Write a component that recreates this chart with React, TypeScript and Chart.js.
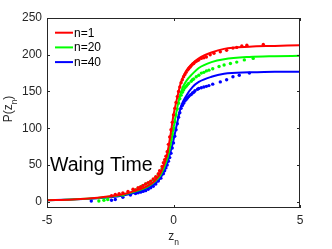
import React, { useEffect, useRef } from "react";
import { Chart, registerables } from "chart.js";

Chart.register(...registerables);

const X_TICKS = [-5, 0, 5];
const Y_TICKS = [0, 50, 100, 150, 200, 250];
const X_MIN = -5;
const X_MAX = 5;
const Y_MIN = -8.6;
const Y_MAX = 250;

const SERIES_LABELS = ["n=1", "n=20", "n=40"];
const SERIES_COLORS = ["#ff0000", "#00ff00", "#0000ff"];

const CURVE_X = [-5, -4, -3, -2.5, -2, -1.5, -1, -0.75, -0.5, -0.25, -0.1, 0, 0.15, 0.3, 0.5, 0.75, 1, 1.5, 2, 3, 4, 5];
const RED_CURVE = [2, 3, 5.5, 7.5, 10, 15, 22, 28, 40, 65, 95, 118, 142, 163, 178, 188, 195, 203, 208, 211, 212, 213];
const GREEN_CURVE = [2, 3, 5, 7, 9.5, 14, 21, 27, 37, 58, 80, 100, 128, 150, 164, 174, 182, 190, 194, 197, 198, 198.5];
const BLUE_CURVE = [2, 3, 4.5, 6, 8.5, 12.5, 19, 24, 33, 52, 70, 84, 108, 130, 144, 156, 163, 170, 174, 176, 177, 177];

const RED_DOTS_X = [-2.45, -2.3, -2.15, -2.0, -1.8, -1.6, -1.5, -1.4, -1.3, -1.2, -1.1, -1.0, -0.9, -0.8, -0.7, -0.6, -0.55, -0.45, -0.4, -0.35, -0.3, -0.25, -0.2, -0.15, -0.1, -0.05, 0, 0.05, 0.1, 0.15, 0.2, 0.25, 0.3, 0.35, 0.4, 0.45, 0.5, 0.55, 0.6, 0.65, 0.7, 0.75, 0.8, 0.85, 0.9, 0.95, 1.0, 1.1, 1.2, 1.3, 1.45, 1.6, 1.85, 2.1, 2.35, 2.5, 2.7, 2.9, 3.55];
const RED_DOTS_Y = [8, 10, 11, 12, 14, 17, 16, 19, 20, 22, 24, 26, 28, 31, 34, 38, 42, 48, 53, 57, 62, 68, 78, 88, 98, 108, 118, 127, 135, 143, 150, 156, 162, 166, 170, 173, 176, 179, 181, 183, 185, 187, 188, 190, 191, 192, 193, 195, 196, 197, 200, 202, 204, 206, 209, 210, 212, 213, 214];

const GREEN_DOTS_X = [-2.95, -2.75, -2.6, -2.0, -1.6, -1.5, -1.4, -1.3, -1.25, -1.1, -1.0, -0.9, -0.8, -0.7, -0.6, -0.5, -0.45, -0.35, -0.3, -0.25, -0.2, -0.15, -0.1, -0.05, 0, 0.05, 0.1, 0.15, 0.2, 0.25, 0.3, 0.35, 0.4, 0.45, 0.5, 0.55, 0.6, 0.7, 0.75, 0.8, 0.9, 1.0, 1.1, 1.2, 1.3, 1.4, 1.55, 1.8, 2.0, 2.25, 2.5, 2.8, 3.15];
const GREEN_DOTS_Y = [1, 2, 3, 9, 14, 16, 18, 20, 21, 24, 25, 27, 30, 33, 37, 41, 45, 52, 57, 62, 70, 77, 85, 92, 100, 109, 118, 126, 134, 140, 145, 149, 152, 155, 157, 159, 161, 164, 166, 167, 170, 172, 175, 176, 178, 179, 181, 184, 186, 188, 190, 193, 195];

const BLUE_DOTS_X = [-3.25, -2.45, -2.3, -2.0, -1.7, -1.5, -1.4, -1.3, -1.2, -1.1, -1.0, -0.9, -0.8, -0.7, -0.6, -0.5, -0.4, -0.35, -0.3, -0.25, -0.2, -0.15, -0.1, -0.05, 0, 0.05, 0.1, 0.15, 0.2, 0.25, 0.3, 0.35, 0.4, 0.45, 0.5, 0.55, 0.6, 0.65, 0.7, 0.75, 0.8, 0.85, 0.95, 1.0, 1.1, 1.2, 1.3, 1.4, 1.55, 1.85, 2.1, 2.35, 2.6, 3.0];
const BLUE_DOTS_Y = [1, 2, 3, 6, 9, 11, 12, 13, 14, 15, 17, 19, 21, 24, 28, 32, 38, 42, 46, 50, 55, 60, 66, 73, 80, 89, 98, 106, 115, 121, 127, 131, 134, 137, 139, 141, 143, 145, 146, 148, 149, 151, 153, 154, 155, 156, 157, 158, 160, 163, 166, 170, 172, 175];

const ANNOTATION_TEXT = "Waing Time";
const ANNOTATION_X = -4.88;
const ANNOTATION_Y = 42;

const FONT = "'Liberation Sans', Arial, Helvetica, sans-serif";
const AXIS_COLOR = "#262626";

const zip = (xs: number[], ys: number[]) => xs.map((x, i) => ({ x, y: ys[i] }));

const frameAndTextPlugin = {
  id: "frameAndText",
  afterDatasetsDraw(chart: any) {
    const ctx = chart.ctx as CanvasRenderingContext2D;
    const { left, right, top, bottom } = chart.chartArea;
    const xs = chart.scales.x;
    const ys = chart.scales.y;
    ctx.save();
    ctx.strokeStyle = AXIS_COLOR;
    ctx.lineWidth = 1;
    ctx.strokeRect(Math.round(left) + 0.5, Math.round(top) + 0.5, Math.round(right - left) - 1, Math.round(bottom - top) - 1);
    const tl = 3;
    ctx.beginPath();
    X_TICKS.forEach((v) => {
      const px = Math.round(xs.getPixelForValue(v)) + 0.5;
      ctx.moveTo(px, bottom);
      ctx.lineTo(px, bottom - tl);
      ctx.moveTo(px, top);
      ctx.lineTo(px, top + tl);
    });
    Y_TICKS.forEach((v) => {
      const py = Math.round(ys.getPixelForValue(v)) + 0.5;
      ctx.moveTo(left, py);
      ctx.lineTo(left + tl, py);
      ctx.moveTo(right, py);
      ctx.lineTo(right - tl, py);
    });
    ctx.stroke();

    ctx.fillStyle = "#000000";
    ctx.font = `19.5px ${FONT}`;
    ctx.textAlign = "left";
    ctx.textBaseline = "alphabetic";
    ctx.fillText(ANNOTATION_TEXT, xs.getPixelForValue(ANNOTATION_X), ys.getPixelForValue(ANNOTATION_Y));

    const lx0 = left + 8;
    const lx1 = left + 26;
    let ly = top + 14.7;
    ctx.font = `12px ${FONT}`;
    ctx.textBaseline = "middle";
    SERIES_LABELS.forEach((lab, i) => {
      ctx.strokeStyle = SERIES_COLORS[i];
      ctx.lineWidth = 2;
      ctx.beginPath();
      ctx.moveTo(lx0, ly);
      ctx.lineTo(lx1, ly);
      ctx.stroke();
      ctx.fillStyle = "#000000";
      ctx.fillText(lab, lx1 + 1, ly + 0.5);
      ly += 14.7;
    });

    ctx.fillStyle = AXIS_COLOR;
    ctx.textBaseline = "alphabetic";
    ctx.font = `12px ${FONT}`;
    const zw = ctx.measureText("z").width;
    ctx.font = `8.5px ${FONT}`;
    const nw = ctx.measureText("n").width;
    const cx = (left + right) / 2;
    const sx = cx - (zw + nw) / 2;
    ctx.font = `12px ${FONT}`;
    ctx.fillText("z", sx, 240);
    ctx.font = `8.5px ${FONT}`;
    ctx.fillText("n", sx + zw, 244.5);

    ctx.save();
    ctx.translate(12, (top + bottom) / 2 - 4);
    ctx.rotate(-Math.PI / 2);
    ctx.font = `12px ${FONT}`;
    const p1 = "P(z";
    const p1w = ctx.measureText(p1).width;
    const p3w = ctx.measureText(")").width;
    ctx.font = `8.5px ${FONT}`;
    const p2w = ctx.measureText("n").width;
    const total = p1w + p2w + p3w;
    let x0 = -total / 2;
    ctx.font = `12px ${FONT}`;
    ctx.fillText(p1, x0, 0);
    x0 += p1w;
    ctx.font = `8.5px ${FONT}`;
    ctx.fillText("n", x0, 4.5);
    x0 += p2w;
    ctx.font = `12px ${FONT}`;
    ctx.fillText(")", x0, 0);
    ctx.restore();

    ctx.restore();
  },
};

export default function App() {
  const canvasRef = useRef<HTMLCanvasElement | null>(null);

  useEffect(() => {
    if (!canvasRef.current) return;
    const curves = [RED_CURVE, GREEN_CURVE, BLUE_CURVE];
    const dots = [
      zip(RED_DOTS_X, RED_DOTS_Y),
      zip(GREEN_DOTS_X, GREEN_DOTS_Y),
      zip(BLUE_DOTS_X, BLUE_DOTS_Y),
    ];
    const datasets: any[] = [];
    SERIES_LABELS.forEach((lab, i) => {
      datasets.push({
        label: lab + " data",
        data: dots[i],
        showLine: false,
        pointRadius: 1.7,
        pointBorderWidth: 0,
        pointBackgroundColor: SERIES_COLORS[i],
        backgroundColor: SERIES_COLORS[i],
        borderColor: SERIES_COLORS[i],
      });
      datasets.push({
        label: lab,
        data: zip(CURVE_X, curves[i]),
        showLine: true,
        pointRadius: 0,
        borderWidth: 2,
        borderColor: SERIES_COLORS[i],
        backgroundColor: SERIES_COLORS[i],
        cubicInterpolationMode: "monotone",
        fill: false,
      });
    });

    const chart = new Chart(canvasRef.current, {
      type: "scatter",
      data: { datasets },
      options: {
        animation: false,
        responsive: false,
        maintainAspectRatio: false,
        devicePixelRatio: 1,
        layout: { padding: { top: 18, right: 32, left: 0, bottom: 0 } },
        plugins: { legend: { display: false }, tooltip: { enabled: false } },
        scales: {
          x: {
            type: "linear",
            min: X_MIN,
            max: X_MAX,
            grid: { display: false, drawTicks: false },
            border: { display: false },
            afterBuildTicks: (scale: any) => {
              scale.ticks = X_TICKS.map((v) => ({ value: v }));
            },
            afterFit: (scale: any) => {
              scale.height = 41;
            },
            ticks: {
              color: AXIS_COLOR,
              font: { family: FONT, size: 12 },
              padding: 5,
              maxRotation: 0,
              autoSkip: false,
            },
          },
          y: {
            type: "linear",
            min: Y_MIN,
            max: Y_MAX,
            grid: { display: false, drawTicks: false },
            border: { display: false },
            afterBuildTicks: (scale: any) => {
              scale.ticks = Y_TICKS.map((v) => ({ value: v }));
            },
            afterFit: (scale: any) => {
              scale.width = 47;
            },
            ticks: {
              color: AXIS_COLOR,
              font: { family: FONT, size: 12 },
              padding: 5,
              autoSkip: false,
            },
          },
        },
      },
      plugins: [frameAndTextPlugin],
    });
    return () => chart.destroy();
  }, []);

  return (
    <div style={{ position: "absolute", left: 0, top: 0, width: 332, height: 249, background: "#ffffff" }}>
      <canvas ref={canvasRef} width={332} height={249} style={{ width: 332, height: 249, display: "block" }} />
    </div>
  );
}
